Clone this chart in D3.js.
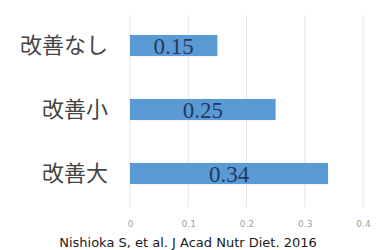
<!DOCTYPE html>
<html><head><meta charset="utf-8">
<script src="https://cdn.jsdelivr.net/npm/d3@7"></script>
<style>body{margin:0;background:#fff}svg{display:block}</style>
</head><body>
<svg id="c" width="376" height="250"></svg>
<script>
const categories = ["改善なし", "改善小", "改善大"];
const values = [0.15, 0.25, 0.34];
const tickValues = [0, 0.1, 0.2, 0.3, 0.4];
const citation = "Nishioka S, et al. J Acad Nutr Diet. 2016";

const svg = d3.select("#c");
const x = d3.scaleLinear().domain([0, 0.4]).range([130, 363]);
const y = d3.scaleBand().domain(categories).range([13.5, 205.5]).paddingInner(0.67).paddingOuter(0.335);

// gridlines
svg.append("g").selectAll("line").data(tickValues).join("line")
  .attr("x1", d => x(d)).attr("x2", d => x(d))
  .attr("y1", 15).attr("y2", 207)
  .attr("stroke", "#e6e6e6").attr("stroke-width", 1);

// tick labels via axis
const ax = svg.append("g").attr("transform", "translate(0,218)")
  .call(d3.axisBottom(x).tickValues(tickValues).tickSize(0).tickFormat(d3.format("~g")));
ax.select(".domain").remove();
ax.selectAll("text").attr("fill", "#a0a0a0").attr("font-size", 9)
  .attr("font-family", "DejaVu Sans, sans-serif").attr("dy", "0.71em");

// bars
svg.append("g").selectAll("rect").data(values).join("rect")
  .attr("x", x(0)).attr("y", (d, i) => y(categories[i]))
  .attr("width", d => x(d) - x(0)).attr("height", y.bandwidth())
  .attr("fill", "#5b9bd5");

// value labels
svg.append("g").selectAll("text").data(values).join("text")
  .attr("x", d => (x(0) + x(d)) / 2).attr("y", (d, i) => y(categories[i]) + y.bandwidth() / 2)
  .attr("dy", "0.36em").attr("text-anchor", "middle")
  .attr("font-family", "Liberation Serif, Times New Roman, serif").attr("font-size", 23)
  .attr("fill", "#24395c").text(d => d.toFixed(2));

// category labels
svg.append("g").selectAll("text").data(categories).join("text")
  .attr("x", 108).attr("y", d => y(d) + y.bandwidth() / 2)
  .attr("dy", "0.35em").attr("text-anchor", "end")
  .attr("font-family", "Noto Sans CJK JP, sans-serif").attr("font-size", 22)
  .attr("fill", "#454545").text(d => d);

// citation
svg.append("text").attr("x", 188).attr("y", 247).attr("text-anchor", "middle")
  .attr("font-family", "DejaVu Sans, Verdana, sans-serif").attr("font-size", 13)
  .attr("fill", "#1a1a1a").text(citation);
</script>
</body></html>
